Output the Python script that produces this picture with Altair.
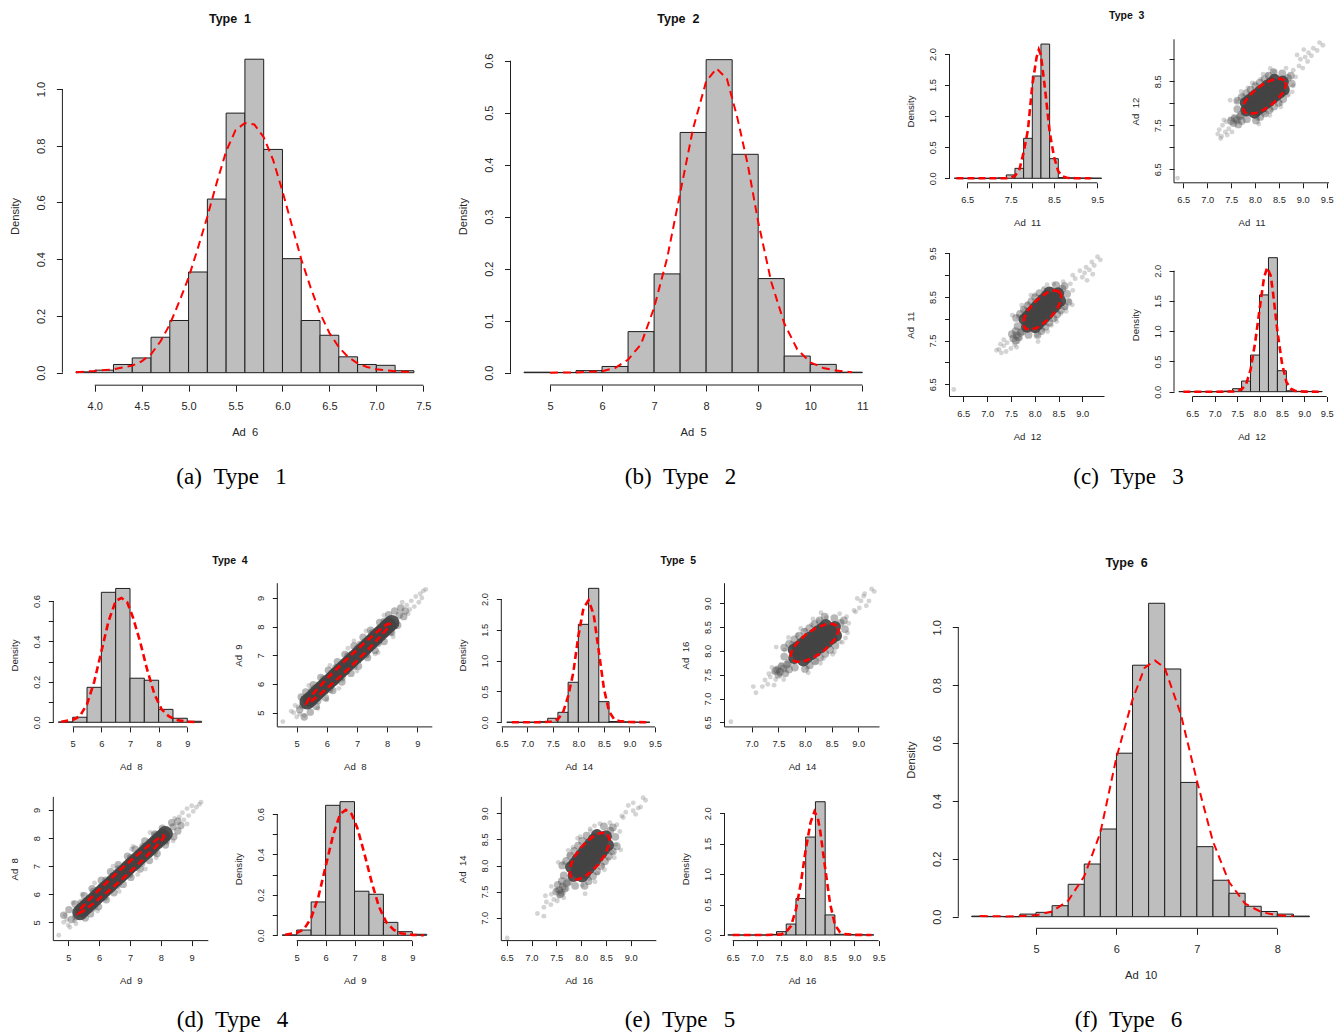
import altair as alt
import pandas as pd

W, H = 1343, 1034
SANS = "Liberation Sans"
SERIF = "Liberation Serif"
INK = "#1e1e1e"
TXT = "#262626"
BAR = "#bebebe"
RED = "#ff0000"

# ---------------- Type 1 : Ad 6 ----------------
ad6_edges = [3.8, 4.0, 4.2, 4.4, 4.6, 4.8, 5.0, 5.2, 5.4, 5.6, 5.8, 6.0, 6.2, 6.4, 6.6, 6.8, 7.0, 7.2, 7.4]
ad6_hist = [0.003, 0.009, 0.029, 0.052, 0.125, 0.184, 0.355, 0.612, 0.915, 1.105, 0.787, 0.402, 0.184, 0.132, 0.056, 0.029, 0.026, 0.007]
ad6_kx = [3.8, 4.0, 4.2, 4.4, 4.5, 4.6, 4.7, 4.8, 4.9, 5.0, 5.1, 5.2, 5.3, 5.4, 5.5, 5.6, 5.7, 5.8, 5.9, 6.0, 6.1, 6.2, 6.3, 6.4, 6.5, 6.6, 6.7, 6.8, 6.9, 7.0, 7.2, 7.4]
ad6_ky = [0.002, 0.006, 0.012, 0.025, 0.04, 0.065, 0.11, 0.17, 0.25, 0.335, 0.44, 0.55, 0.67, 0.78, 0.855, 0.88, 0.875, 0.83, 0.75, 0.64, 0.52, 0.40, 0.30, 0.21, 0.14, 0.09, 0.055, 0.033, 0.02, 0.012, 0.005, 0.002]

# ---------------- Type 2 : Ad 5 ----------------
ad5_edges = [4.5, 5.0, 5.5, 6.0, 6.5, 7.0, 7.5, 8.0, 8.5, 9.0, 9.5, 10.0, 10.5, 11.0]
ad5_hist = [0.001, 0.0005, 0.004, 0.012, 0.079, 0.190, 0.462, 0.602, 0.420, 0.181, 0.032, 0.016, 0.001]
ad5_kx = [5.0, 5.5, 6.0, 6.25, 6.5, 6.75, 7.0, 7.25, 7.5, 7.75, 8.0, 8.2, 8.4, 8.6, 8.8, 9.0, 9.25, 9.5, 9.75, 10.0, 10.25, 10.5, 10.8]
ad5_ky = [0.0, 0.0005, 0.003, 0.009, 0.025, 0.055, 0.125, 0.22, 0.345, 0.47, 0.56, 0.585, 0.565, 0.49, 0.40, 0.29, 0.175, 0.095, 0.045, 0.02, 0.009, 0.004, 0.001]

# ---------------- Type 3 : Ad 11, Ad 12 ----------------
ad11_edges = [6.2, 6.4, 6.6, 6.8, 7.0, 7.2, 7.4, 7.6, 7.8, 8.0, 8.2, 8.4, 8.6, 8.8, 9.0, 9.2, 9.4, 9.6]
ad11_hist = [0.002, 0.0, 0.0, 0.0, 0.0, 0.008, 0.054, 0.16, 0.643, 1.646, 2.16, 0.316, 0.012, 0.008, 0.005, 0.004, 0.002]
ad11_kx = [6.25, 7.0, 7.4, 7.5, 7.6, 7.7, 7.8, 7.9, 8.0, 8.1, 8.15, 8.2, 8.3, 8.4, 8.5, 8.6, 8.7, 8.8, 9.0, 9.35]
ad11_ky = [0.0, 0.0, 0.003, 0.01, 0.04, 0.13, 0.42, 0.78, 1.5, 1.95, 2.07, 1.98, 1.4, 0.75, 0.35, 0.11, 0.03, 0.008, 0.001, 0.0]

ad12_edges = [6.2, 6.4, 6.6, 6.8, 7.0, 7.2, 7.4, 7.6, 7.8, 8.0, 8.2, 8.4, 8.6, 8.8, 9.0, 9.2, 9.4]
ad12_hist = [0.002, 0.0, 0.0, 0.0, 0.0, 0.01, 0.05, 0.176, 0.606, 1.60, 2.215, 0.347, 0.015, 0.006, 0.004, 0.003]
ad12_kx = [6.3, 7.0, 7.4, 7.5, 7.6, 7.7, 7.8, 7.9, 8.0, 8.1, 8.17, 8.25, 8.3, 8.4, 8.5, 8.6, 8.7, 8.8, 9.0, 9.4]
ad12_ky = [0.0, 0.0, 0.003, 0.01, 0.04, 0.12, 0.36, 0.8, 1.35, 1.88, 2.05, 1.92, 1.65, 1.0, 0.48, 0.16, 0.05, 0.012, 0.002, 0.0]

# scatter cloud (Ad 11, Ad 12): dense core, fringe, sparse outer points, red contour
t3_core_a = [7.82, 7.90, 7.97, 8.05, 8.12, 8.20, 8.28, 8.35, 8.43, 8.50, 8.58,
             7.81, 7.88, 7.96, 8.03, 8.11, 8.19, 8.26, 8.34, 8.41,
             7.99, 8.06, 8.14, 8.22, 8.29, 8.37, 8.44, 8.52, 8.60]
t3_core_b = [7.84, 7.90, 7.97, 8.03, 8.10, 8.16, 8.23, 8.29, 8.36, 8.42, 8.49,
             8.01, 8.07, 8.14, 8.20, 8.27, 8.33, 8.40, 8.46, 8.53,
             7.79, 7.86, 7.92, 7.99, 8.05, 8.12, 8.18, 8.25, 8.31]
t3_mid_a = [7.63, 7.72, 7.82, 7.91, 8.01, 8.10, 8.20, 8.29, 8.39, 8.02, 8.11, 8.21, 8.30, 8.40, 8.49, 8.59,
            8.69, 8.57, 8.77, 8.75, 7.71, 7.63, 7.83, 7.62, 7.68, 7.72, 7.58, 7.55, 7.65, 7.50]
t3_mid_b = [8.06, 8.14, 8.23, 8.31, 8.39, 8.47, 8.55, 8.63, 8.71, 7.61, 7.69, 7.77, 7.85, 7.93, 8.01, 8.10,
            8.58, 8.68, 8.45, 8.63, 7.74, 7.87, 7.64, 7.62, 7.70, 7.60, 7.66, 7.55, 7.52, 7.60]
t3_out_a = [7.22, 7.25, 7.30, 7.32, 7.38, 7.40, 7.45, 7.48, 7.35, 7.42, 7.55, 7.52, 7.28, 7.62, 7.75, 7.85, 8.00, 8.12,
            8.25, 8.40, 8.05, 8.20, 8.35, 8.55, 8.70, 8.80, 8.85, 8.80, 8.65, 8.92, 8.95, 9.00, 9.05, 9.10, 9.12, 9.18,
            9.22, 9.30, 9.35, 9.42, 8.88, 9.02, 6.38, 7.48, 7.71, 7.94, 8.17, 8.32, 8.08, 8.31, 8.54, 8.68, 8.78]
t3_out_b = [7.30, 7.40, 7.25, 7.50, 7.35, 7.58, 7.42, 7.65, 7.62, 7.28, 7.70, 7.35, 7.20, 8.05, 8.18, 8.35, 8.45, 8.55,
            8.65, 8.72, 7.65, 7.78, 7.85, 8.00, 8.20, 8.40, 8.60, 8.75, 8.80, 8.85, 9.00, 8.80, 9.05, 8.95, 9.15, 9.08,
            9.25, 9.20, 9.38, 9.32, 9.10, 9.22, 6.30, 8.07, 8.27, 8.46, 8.66, 8.79, 7.53, 7.73, 7.92, 8.18, 8.26]
t3_ell_a = [8.62, 8.53, 8.39, 8.22, 8.04, 7.90, 7.79, 7.75, 7.78, 7.87, 8.02, 8.18, 8.36, 8.50, 8.61, 8.65, 8.62]
t3_ell_b = [8.52, 8.56, 8.54, 8.47, 8.34, 8.19, 8.04, 7.90, 7.80, 7.76, 7.78, 7.85, 7.98, 8.13, 8.28, 8.42, 8.52]

# ---------------- Type 4 : Ad 8, Ad 9 ----------------
ad8_edges = [4.5, 5.0, 5.5, 6.0, 6.5, 7.0, 7.5, 8.0, 8.5, 9.0, 9.5]
ad8_hist = [0.002, 0.025, 0.173, 0.643, 0.662, 0.218, 0.208, 0.064, 0.020, 0.005]
ad8_kx = [4.6, 5.0, 5.25, 5.5, 5.75, 6.0, 6.25, 6.5, 6.7, 6.9, 7.1, 7.35, 7.6, 7.85, 8.1, 8.35, 8.6, 9.0, 9.4]
ad8_ky = [0.003, 0.012, 0.03, 0.09, 0.2, 0.35, 0.5, 0.6, 0.615, 0.595, 0.52, 0.4, 0.26, 0.14, 0.065, 0.03, 0.012, 0.003, 0.001]
ad9_edges = [4.5, 5.0, 5.5, 6.0, 6.5, 7.0, 7.5, 8.0, 8.5, 9.0, 9.5]
ad9_hist = [0.002, 0.026, 0.165, 0.643, 0.661, 0.218, 0.203, 0.064, 0.018, 0.005]
ad9_kx = [4.6, 5.0, 5.25, 5.5, 5.75, 6.0, 6.25, 6.5, 6.7, 6.9, 7.1, 7.35, 7.6, 7.85, 8.1, 8.35, 8.6, 9.0, 9.4]
ad9_ky = [0.003, 0.012, 0.03, 0.085, 0.19, 0.34, 0.49, 0.6, 0.62, 0.6, 0.53, 0.4, 0.26, 0.14, 0.065, 0.028, 0.01, 0.002, 0.0]

t4_core_a = [5.35, 5.45, 5.55, 5.65, 5.75, 5.85, 5.95, 6.05, 6.15, 6.25, 6.35, 6.45, 6.55, 6.65, 6.75, 6.85, 6.95,
             7.05, 7.15, 7.25, 7.35, 7.45, 7.55, 7.65, 7.75, 7.85, 7.95, 8.05, 8.15]
t4_core_b = [5.38, 5.47, 5.57, 5.67, 5.77, 5.87, 5.97, 6.06, 6.16, 6.26, 6.36, 6.46, 6.56, 6.66, 6.76, 6.86, 6.95,
             7.05, 7.15, 7.25, 7.35, 7.45, 7.55, 7.65, 7.75, 7.85, 7.95, 8.05, 8.14]
t4_mid_a = [5.15, 5.25, 5.30, 5.45, 5.55, 5.65, 5.80, 5.95, 6.05, 6.20, 6.35, 6.50, 6.60, 6.80, 6.90, 7.05, 7.20, 7.35,
            7.45, 7.60, 7.75, 7.90, 8.05, 8.15, 8.25, 8.35, 8.45, 8.55, 5.10, 5.20, 8.40, 8.60, 5.60, 6.30, 7.00, 7.70,
            6.65, 5.90, 5.50, 5.90, 6.30, 6.70, 7.10, 7.50, 7.90, 5.70, 6.10, 6.50, 6.90, 7.30, 7.70, 8.10]
t4_mid_b = [5.55, 4.85, 5.72, 5.02, 5.98, 5.22, 6.23, 5.52, 6.48, 5.77, 6.78, 6.07, 7.03, 6.37, 7.33, 6.62, 7.63, 6.92,
            7.88, 7.17, 8.15, 7.48, 8.42, 7.80, 8.55, 8.05, 8.65, 8.35, 5.10, 5.25, 8.40, 8.55, 5.85, 6.10, 7.22, 7.50,
            6.45, 6.10, 5.78, 6.18, 6.58, 6.98, 7.38, 7.78, 8.18, 5.42, 5.82, 6.22, 6.62, 7.02, 7.42, 7.82]
t4_out_a = [4.90, 5.00, 5.05, 5.10, 8.65, 8.75, 8.80, 8.90, 8.95, 9.05, 9.10, 9.20, 9.28, 9.15, 8.70, 8.50, 5.40, 5.70,
            6.10, 6.40, 6.70, 7.00, 7.30, 7.60, 7.90, 8.20, 6.00, 6.90, 7.70, 4.54, 4.82, 4.95, 5.25]
t4_out_b = [5.00, 4.85, 5.20, 4.95, 8.75, 8.60, 8.90, 8.70, 9.05, 8.85, 9.15, 9.25, 9.30, 9.00, 8.45, 8.85, 5.95, 5.15,
            6.65, 5.85, 7.25, 6.45, 7.85, 7.05, 8.40, 7.65, 5.45, 7.50, 7.10, 4.69, 5.05, 5.25, 4.90]
t4_ell_a = [8.11, 7.96, 7.63, 7.16, 6.62, 6.10, 5.67, 5.40, 5.33, 5.48, 5.81, 6.28, 6.82, 7.34, 7.77, 8.04, 8.11]
t4_ell_b = [8.12, 8.06, 7.79, 7.35, 6.83, 6.29, 5.81, 5.48, 5.34, 5.40, 5.67, 6.11, 6.63, 7.17, 7.65, 7.98, 8.12]

# ---------------- Type 5 : Ad 14, Ad 16 ----------------
ad14_edges = [6.6, 6.8, 7.0, 7.2, 7.4, 7.6, 7.8, 8.0, 8.2, 8.4, 8.6, 8.8, 9.0, 9.2, 9.4]
ad14_hist = [0.002, 0.0, 0.002, 0.01, 0.065, 0.162, 0.649, 1.589, 2.173, 0.335, 0.012, 0.008, 0.004, 0.003]
ad14_kx = [6.7, 7.2, 7.5, 7.6, 7.7, 7.8, 7.9, 8.0, 8.1, 8.2, 8.3, 8.4, 8.5, 8.6, 8.7, 8.8, 9.0, 9.35]
ad14_ky = [0.0, 0.0, 0.01, 0.05, 0.16, 0.42, 0.8, 1.4, 1.85, 1.98, 1.75, 1.15, 0.55, 0.18, 0.05, 0.02, 0.005, 0.0]
ad16_edges = [6.4, 6.6, 6.8, 7.0, 7.2, 7.4, 7.6, 7.8, 8.0, 8.2, 8.4, 8.6, 8.8, 9.0, 9.2, 9.4]
ad16_hist = [0.002, 0.0, 0.0, 0.0, 0.01, 0.055, 0.18, 0.60, 1.61, 2.19, 0.33, 0.012, 0.006, 0.004, 0.002]
ad16_kx = [6.5, 7.2, 7.5, 7.6, 7.7, 7.8, 7.9, 8.0, 8.1, 8.18, 8.25, 8.3, 8.4, 8.5, 8.6, 8.7, 8.8, 9.0, 9.35]
ad16_ky = [0.0, 0.0, 0.01, 0.05, 0.15, 0.42, 0.85, 1.4, 1.85, 2.03, 1.92, 1.7, 1.1, 0.52, 0.17, 0.05, 0.015, 0.003, 0.0]

t5_core_a = [7.80, 7.88, 7.95, 8.03, 8.10, 8.18, 8.26, 8.33, 8.41, 8.48, 8.56,
             7.79, 7.86, 7.94, 8.01, 8.09, 8.17, 8.24, 8.32, 8.39,
             7.97, 8.04, 8.12, 8.20, 8.27, 8.35, 8.42, 8.50, 8.58]
t5_core_b = [7.85, 7.91, 7.98, 8.04, 8.11, 8.17, 8.24, 8.30, 8.37, 8.43, 8.50,
             8.02, 8.08, 8.15, 8.21, 8.28, 8.34, 8.41, 8.47, 8.54,
             7.80, 7.87, 7.93, 8.00, 8.06, 8.13, 8.19, 8.26, 8.32]
t5_mid_a = [7.61, 7.70, 7.80, 7.89, 7.99, 8.08, 8.18, 8.27, 8.37, 8.00, 8.09, 8.19, 8.28, 8.38, 8.47, 8.57,
            8.67, 8.55, 8.75, 8.73, 7.69, 7.61, 7.81, 7.60, 7.66, 7.70, 7.56, 7.53, 7.63, 7.48, 7.45, 7.50]
t5_mid_b = [8.07, 8.15, 8.24, 8.32, 8.40, 8.48, 8.56, 8.64, 8.72, 7.62, 7.70, 7.78, 7.86, 7.94, 8.02, 8.11,
            8.59, 8.69, 8.46, 8.64, 7.75, 7.88, 7.65, 7.63, 7.71, 7.61, 7.67, 7.56, 7.53, 7.61, 7.58, 7.50]
t5_out_a = [7.25, 7.30, 7.35, 7.40, 7.45, 7.48, 7.52, 7.38, 7.42, 7.55, 7.32, 7.60, 7.20, 7.62, 7.75, 7.85, 8.00, 8.12,
            8.25, 8.40, 8.05, 8.20, 8.35, 8.55, 8.70, 8.80, 8.82, 8.78, 8.65, 8.92, 8.98, 9.02, 9.05, 9.10, 9.15, 9.20,
            9.25, 9.30, 8.95, 9.12, 7.08, 7.03, 6.61, 7.46, 7.69, 7.92, 8.15, 8.30, 8.06, 8.29, 8.52, 8.66, 8.76]
t5_out_b = [7.39, 7.30, 7.45, 7.55, 7.40, 7.62, 7.50, 7.65, 7.28, 7.72, 7.52, 7.40, 7.25, 8.02, 8.16, 8.33, 8.44, 8.55,
            8.63, 8.70, 7.64, 7.76, 7.84, 7.98, 8.18, 8.38, 8.58, 8.72, 8.78, 8.85, 9.10, 8.90, 9.05, 9.15, 8.95, 9.05,
            9.30, 9.25, 8.82, 9.20, 7.12, 7.25, 6.51, 8.08, 8.28, 8.47, 8.67, 8.80, 7.54, 7.74, 7.93, 8.19, 8.27]
t5_ell_a = [8.60, 8.51, 8.37, 8.20, 8.02, 7.88, 7.77, 7.73, 7.76, 7.85, 8.00, 8.16, 8.34, 8.48, 8.59, 8.63, 8.60]
t5_ell_b = [8.53, 8.57, 8.55, 8.48, 8.35, 8.20, 8.05, 7.91, 7.81, 7.77, 7.79, 7.86, 7.99, 8.14, 8.29, 8.43, 8.53]

# ---------------- Type 6 : Ad 10 ----------------
ad10_edges = [4.2, 4.4, 4.6, 4.8, 5.0, 5.2, 5.4, 5.6, 5.8, 6.0, 6.2, 6.4, 6.6, 6.8, 7.0, 7.2, 7.4, 7.6, 7.8, 8.0, 8.2, 8.4]
ad10_hist = [0.002, 0.001, 0.0, 0.009, 0.015, 0.038, 0.112, 0.182, 0.303, 0.565, 0.869, 1.083, 0.856, 0.464, 0.242, 0.126, 0.081, 0.036, 0.018, 0.009, 0.002]
ad10_kx = [4.3, 4.6, 4.8, 5.0, 5.2, 5.4, 5.6, 5.8, 6.0, 6.2, 6.35, 6.48, 6.6, 6.8, 7.0, 7.2, 7.4, 7.6, 7.8, 8.0, 8.2]
ad10_ky = [0.002, 0.001, 0.002, 0.005, 0.018, 0.055, 0.14, 0.29, 0.55, 0.75, 0.86, 0.885, 0.86, 0.7, 0.47, 0.26, 0.12, 0.045, 0.016, 0.005, 0.002]

# ---------------- text ----------------
titles = ["Type\u00a0 1", "Type\u00a0 2", "Type\u00a0 3", "Type\u00a0 4", "Type\u00a0 5", "Type\u00a0 6"]
captions = ["(a)\u2002Type\u2002\u20091", "(b)\u2002Type\u2002\u20092", "(c)\u2002Type\u2002\u20093",
            "(d)\u2002Type\u2002\u20094", "(e)\u2002Type\u2002\u20095", "(f)\u2002Type\u2002\u20096"]

# ---------------- styles / layout ----------------
BIG = dict(tick=6, lab_d=21, lab_fs=11, tit_fs=11.2, xt_d=47, yt_d=47, dash=[8, 5], lw=2.0)
SMALL = dict(tick=5, lab_d=17, lab_fs=9.3, tit_fs=9.6, xt_d=40, yt_d=39, dash=[7, 4], lw=2.6)

def inv(vmap, p):
    v0, p0, v1, p1 = vmap
    return v0 + (p - p0) * (v1 - v0) / (p1 - p0)

def label_expr(show, fmt):
    if show is None:
        return "format(datum.value, '%s')" % fmt
    arr = ",".join(repr(v) for v in show)
    return "indexof([%s], datum.value) >= 0 ? format(datum.value, '%s') : ''" % (arr, fmt)

def x_axis(P):
    S = P["S"]
    X0, X1, Y0, Y1 = P["box"]
    return alt.Axis(orient="bottom", offset=Y1 - H, values=P["xt"], domain=False, grid=False,
                    ticks=True, tickSize=S["tick"], tickColor=INK, tickWidth=1,
                    labelExpr=label_expr(P.get("xshow"), P["xfmt"]),
                    labelFont=SANS, labelFontSize=S["lab_fs"], labelColor=TXT,
                    labelPadding=S["lab_d"] - S["tick"], labelAngle=0, labelAlign="center",
                    labelBaseline="middle", labelFlush=False, labelOverlap=False, labelBound=False,
                    title=P["xtitle"], titleFont=SANS, titleFontSize=S["tit_fs"], titleFontWeight="normal",
                    titleColor=TXT, titleX=(X0 + X1) / 2, titleY=S["xt_d"], titleAngle=0,
                    titleAlign="center", titleBaseline="middle")

def y_axis(P):
    S = P["S"]
    X0, X1, Y0, Y1 = P["box"]
    return alt.Axis(orient="left", offset=-X0, values=P["yt"], domain=False, grid=False,
                    ticks=True, tickSize=S["tick"], tickColor=INK, tickWidth=1,
                    labelExpr=label_expr(P.get("yshow"), P["yfmt"]),
                    labelFont=SANS, labelFontSize=S["lab_fs"], labelColor=TXT,
                    labelPadding=S["lab_d"] - S["tick"], labelAngle=270, labelAlign="center",
                    labelBaseline="middle", labelFlush=False, labelOverlap=False, labelBound=False,
                    title=P["ytitle"], titleFont=SANS, titleFontSize=S["tit_fs"], titleFontWeight="normal",
                    titleColor=TXT, titleX=-S["yt_d"], titleY=(Y0 + Y1) / 2, titleAngle=270,
                    titleAlign="center", titleBaseline="middle")

def scales(P):
    xs = alt.Scale(domain=[inv(P["xmap"], 0), inv(P["xmap"], W)], nice=False, zero=False)
    ys = alt.Scale(domain=[inv(P["ymap"], H), inv(P["ymap"], 0)], nice=False, zero=False)
    return xs, ys

def rules(xs, ys, pairs):
    df = pd.DataFrame(pairs, columns=["xa", "xb", "ya", "yb"])
    return alt.Chart(df).mark_rule(color=INK, strokeWidth=1).encode(
        x=alt.X("xa:Q", scale=xs, axis=None), x2="xb:Q",
        y=alt.Y("ya:Q", scale=ys, axis=None), y2="yb:Q")

def hist_layers(P):
    xs, ys = scales(P)
    S = P["S"]
    X0, X1, Y0, Y1 = P["box"]
    e = P["edges"]
    d = P["dens"]
    df = pd.DataFrame({"lo": e[:-1], "hi": e[1:], "d": d, "base": [0.0] * len(d)})
    bars = alt.Chart(df).mark_rect(fill=BAR, stroke=INK, strokeWidth=1).encode(
        x=alt.X("lo:Q", scale=xs, axis=x_axis(P)), x2="hi:Q",
        y=alt.Y("d:Q", scale=ys, axis=y_axis(P)), y2="base:Q")
    dens = alt.Chart(pd.DataFrame({"x": P["kx"], "y": P["ky"]})).mark_line(
        color=RED, strokeWidth=S["lw"], strokeDash=S["dash"]).encode(
        x=alt.X("x:Q", scale=xs, axis=None), y=alt.Y("y:Q", scale=ys, axis=None))
    xt, yt = P["xt"], P["yt"]
    ax = rules(xs, ys, [
        [xt[0], xt[-1], inv(P["ymap"], Y1), inv(P["ymap"], Y1)],
        [inv(P["xmap"], X0), inv(P["xmap"], X0), yt[0], yt[-1]],
    ])
    return [bars, dens, ax]

def scatter_layers(P):
    xs, ys = scales(P)
    S = P["S"]
    X0, X1, Y0, Y1 = P["box"]
    c = P["cloud"]
    sw = P["swap"]

    def xy(pair):
        a, b = pair
        return (b, a) if sw else (a, b)

    layers = []
    specs = [("out", 24, "#7a7a7a", 0.32), ("mid", c["mid_size"], "#4a4a4a", 0.4),
             ("core", c["core_size"], "#434343", 0.92)]
    for i, (key, size, col, op) in enumerate(specs):
        x, y = xy(c[key])
        df = pd.DataFrame({"x": x, "y": y})
        layers.append(alt.Chart(df).mark_circle(size=size, color=col, opacity=op).encode(
            x=alt.X("x:Q", scale=xs, axis=x_axis(P) if i == 0 else None),
            y=alt.Y("y:Q", scale=ys, axis=y_axis(P) if i == 0 else None)))
    ex, ey = xy(c["ell"])
    edf = pd.DataFrame({"x": ex, "y": ey, "i": list(range(len(ex)))})
    layers.append(alt.Chart(edf).mark_line(color=RED, strokeWidth=S["lw"], strokeDash=S["dash"]).encode(
        x=alt.X("x:Q", scale=xs, axis=None), y=alt.Y("y:Q", scale=ys, axis=None), order="i:Q"))
    xl, xr = inv(P["xmap"], X0), inv(P["xmap"], X1)
    yb, ytp = inv(P["ymap"], Y1), inv(P["ymap"], Y0)
    layers.append(rules(xs, ys, [[xl, xr, yb, yb], [xl, xl, yb, ytp]]))
    return layers

cloud3 = dict(core=(t3_core_a, t3_core_b), mid=(t3_mid_a, t3_mid_b), out=(t3_out_a, t3_out_b),
              ell=(t3_ell_a, t3_ell_b), core_size=150, mid_size=60)
cloud4 = dict(core=(t4_core_a, t4_core_b), mid=(t4_mid_a, t4_mid_b), out=(t4_out_a, t4_out_b),
              ell=(t4_ell_a, t4_ell_b), core_size=240, mid_size=55)
cloud5 = dict(core=(t5_core_a, t5_core_b), mid=(t5_mid_a, t5_mid_b), out=(t5_out_a, t5_out_b),
              ell=(t5_ell_a, t5_ell_b), core_size=150, mid_size=60)

halves = [6.5, 7.0, 7.5, 8.0, 8.5, 9.0, 9.5]
dens2 = [0.0, 0.5, 1.0, 1.5, 2.0]
dens06 = [0.0, 0.1, 0.2, 0.3, 0.4, 0.5, 0.6]
ints = [5, 6, 7, 8, 9]

panels = [
    dict(kind="hist", S=BIG, box=(62.4, 427.0, 46.7, 385.2), xmap=(4.0, 94.7, 7.5, 423.3), ymap=(0, 372.7, 1.0, 89.0),
         xt=[4.0, 4.5, 5.0, 5.5, 6.0, 6.5, 7.0, 7.5], xfmt=".1f", yt=[0.0, 0.2, 0.4, 0.6, 0.8, 1.0], yfmt=".1f",
         xtitle="Ad\u00a0 6", ytitle="Density", edges=ad6_edges, dens=ad6_hist, kx=ad6_kx, ky=ad6_ky),
    dict(kind="hist", S=BIG, box=(510.5, 875.8, 47.2, 385.0), xmap=(5, 550.0, 11, 862.3), ymap=(0, 372.7, 0.6, 60.7),
         xt=[5, 6, 7, 8, 9, 10, 11], xfmt="d", yt=[0.0, 0.1, 0.2, 0.3, 0.4, 0.5, 0.6], yfmt=".1f",
         xtitle="Ad\u00a0 5", ytitle="Density", edges=ad5_edges, dens=ad5_hist, kx=ad5_kx, ky=ad5_ky),
    dict(kind="hist", S=BIG, box=(958.3, 1323.0, 590.9, 928.3), xmap=(5, 1036.0, 8, 1277.3), ymap=(0, 916.7, 1.0, 627.3),
         xt=[5, 6, 7, 8], xfmt="d", yt=[0.0, 0.2, 0.4, 0.6, 0.8, 1.0], yfmt=".1f",
         xtitle="Ad\u00a0 10", ytitle="Density", edges=ad10_edges, dens=ad10_hist, kx=ad10_kx, ky=ad10_ky),
    # Type 3
    dict(kind="hist", S=SMALL, box=(949.5, 1104.5, 39.3, 182.8), xmap=(6.5, 967.3, 9.5, 1097.3), ymap=(0, 178.3, 2.0, 54.0),
         xt=halves, xshow=[6.5, 7.5, 8.5, 9.5], xfmt=".1f", yt=dens2, yfmt=".1f",
         xtitle="Ad\u00a0 11", ytitle="Density", edges=ad11_edges, dens=ad11_hist, kx=ad11_kx, ky=ad11_ky),
    dict(kind="scatter", S=SMALL, box=(1174.0, 1329.0, 39.3, 182.8), xmap=(6.5, 1183.3, 9.5, 1326.7), ymap=(6.5, 169.3, 9.0, 59.3),
         xt=halves, xfmt=".1f", yt=[6.5, 7.0, 7.5, 8.0, 8.5, 9.0], yshow=[6.5, 7.5, 8.5], yfmt=".1f",
         xtitle="Ad\u00a0 11", ytitle="Ad\u00a0 12", cloud=cloud3, swap=False),
    dict(kind="scatter", S=SMALL, box=(949.5, 1104.5, 253.0, 396.5), xmap=(6.5, 963.3, 9.0, 1082.3), ymap=(6.5, 384.3, 9.5, 253.3),
         xt=[6.5, 7.0, 7.5, 8.0, 8.5, 9.0], xfmt=".1f", yt=halves, yshow=[6.5, 7.5, 8.5, 9.5], yfmt=".1f",
         xtitle="Ad\u00a0 12", ytitle="Ad\u00a0 11", cloud=cloud3, swap=True),
    dict(kind="hist", S=SMALL, box=(1174.0, 1329.0, 253.0, 396.5), xmap=(6.5, 1192.3, 9.5, 1326.7), ymap=(0, 391.7, 2.0, 270.7),
         xt=halves, xfmt=".1f", yt=dens2, yfmt=".1f",
         xtitle="Ad\u00a0 12", ytitle="Density", edges=ad12_edges, dens=ad12_hist, kx=ad12_kx, ky=ad12_ky),
    # Type 4
    dict(kind="hist", S=SMALL, box=(53.3, 208.3, 583.2, 726.9), xmap=(5, 72.7, 9, 187.3), ymap=(0, 722.3, 0.6, 601.0),
         xt=ints, xfmt="d", yt=dens06, yshow=[0.0, 0.2, 0.4, 0.6], yfmt=".1f",
         xtitle="Ad\u00a0 8", ytitle="Density", edges=ad8_edges, dens=ad8_hist, kx=ad8_kx, ky=ad8_ky),
    dict(kind="scatter", S=SMALL, box=(277.3, 432.3, 583.2, 726.9), xmap=(5, 296.7, 9, 417.3), ymap=(5, 712.7, 9, 598.0),
         xt=ints, xfmt="d", yt=ints, yfmt="d", xtitle="Ad\u00a0 8", ytitle="Ad\u00a0 9", cloud=cloud4, swap=False),
    dict(kind="scatter", S=SMALL, box=(53.3, 208.3, 796.9, 940.6), xmap=(5, 68.3, 9, 191.7), ymap=(5, 922.3, 9, 810.0),
         xt=ints, xfmt="d", yt=ints, yfmt="d", xtitle="Ad\u00a0 9", ytitle="Ad\u00a0 8", cloud=cloud4, swap=True),
    dict(kind="hist", S=SMALL, box=(277.3, 432.3, 796.9, 940.6), xmap=(5, 296.7, 9, 412.3), ymap=(0, 935.3, 0.6, 814.0),
         xt=ints, xfmt="d", yt=dens06, yshow=[0.0, 0.2, 0.4, 0.6], yfmt=".1f",
         xtitle="Ad\u00a0 9", ytitle="Density", edges=ad9_edges, dens=ad9_hist, kx=ad9_kx, ky=ad9_ky),
    # Type 5
    dict(kind="hist", S=SMALL, box=(501.3, 656.3, 583.2, 726.9), xmap=(6.5, 501.7, 9.5, 655.0), ymap=(0, 722.3, 2.0, 599.0),
         xt=halves, xfmt=".1f", yt=dens2, yfmt=".1f",
         xtitle="Ad\u00a0 14", ytitle="Density", edges=ad14_edges, dens=ad14_hist, kx=ad14_kx, ky=ad14_ky),
    dict(kind="scatter", S=SMALL, box=(724.5, 879.5, 583.2, 726.9), xmap=(7.0, 751.7, 9.0, 858.3), ymap=(6.5, 722.3, 9.0, 603.3),
         xt=[7.0, 7.5, 8.0, 8.5, 9.0], xfmt=".1f", yt=[6.5, 7.0, 7.5, 8.0, 8.5, 9.0], yfmt=".1f",
         xtitle="Ad\u00a0 14", ytitle="Ad\u00a0 16", cloud=cloud5, swap=False),
    dict(kind="scatter", S=SMALL, box=(501.3, 656.3, 796.9, 940.6), xmap=(6.5, 506.7, 9.0, 630.7), ymap=(7.0, 917.7, 9.0, 813.3),
         xt=[6.5, 7.0, 7.5, 8.0, 8.5, 9.0], xfmt=".1f", yt=[7.0, 7.5, 8.0, 8.5, 9.0], yfmt=".1f",
         xtitle="Ad\u00a0 16", ytitle="Ad\u00a0 14", cloud=cloud5, swap=True),
    dict(kind="hist", S=SMALL, box=(724.5, 879.5, 796.9, 940.6), xmap=(6.5, 732.7, 9.5, 878.7), ymap=(0, 935.0, 2.0, 813.3),
         xt=halves, xfmt=".1f", yt=dens2, yfmt=".1f",
         xtitle="Ad\u00a0 16", ytitle="Density", edges=ad16_edges, dens=ad16_hist, kx=ad16_kx, ky=ad16_ky),
]

def text_layer(s, x, y, size, weight="normal", font=SANS, color="#111111"):
    return alt.Chart(pd.DataFrame({"t": [s]})).mark_text(
        font=font, fontSize=size, fontWeight=weight, color=color, align="center", baseline="middle"
    ).encode(x=alt.value(x), y=alt.value(y), text="t:N")

layers = []
for P in panels:
    if P["kind"] == "hist":
        layers += hist_layers(P)
    else:
        layers += scatter_layers(P)

title_pos = [(230, 19, 12.5), (678.3, 19, 12.5), (1126.7, 16, 10.5),
             (230, 560.7, 10.5), (678.3, 560.7, 10.5), (1126.7, 563.3, 12.5)]
for s, (x, y, fs) in zip(titles, title_pos):
    layers.append(text_layer(s, x, y, fs, weight="bold"))

cap_pos = [(231.5, 477), (680.5, 477), (1128.5, 477), (232.5, 1020), (680.0, 1020), (1128.5, 1020)]
for s, (x, y) in zip(captions, cap_pos):
    layers.append(text_layer(s, x, y, 23, font=SERIF, color="#000000"))

chart = alt.layer(*layers).resolve_scale(x="independent", y="independent").properties(
    width=W, height=H, padding=0, autosize=alt.AutoSizeParams(type="none"), background="white"
).configure_view(stroke=None)

chart.save("out.html", embed_options={"renderer": "svg", "actions": False})
